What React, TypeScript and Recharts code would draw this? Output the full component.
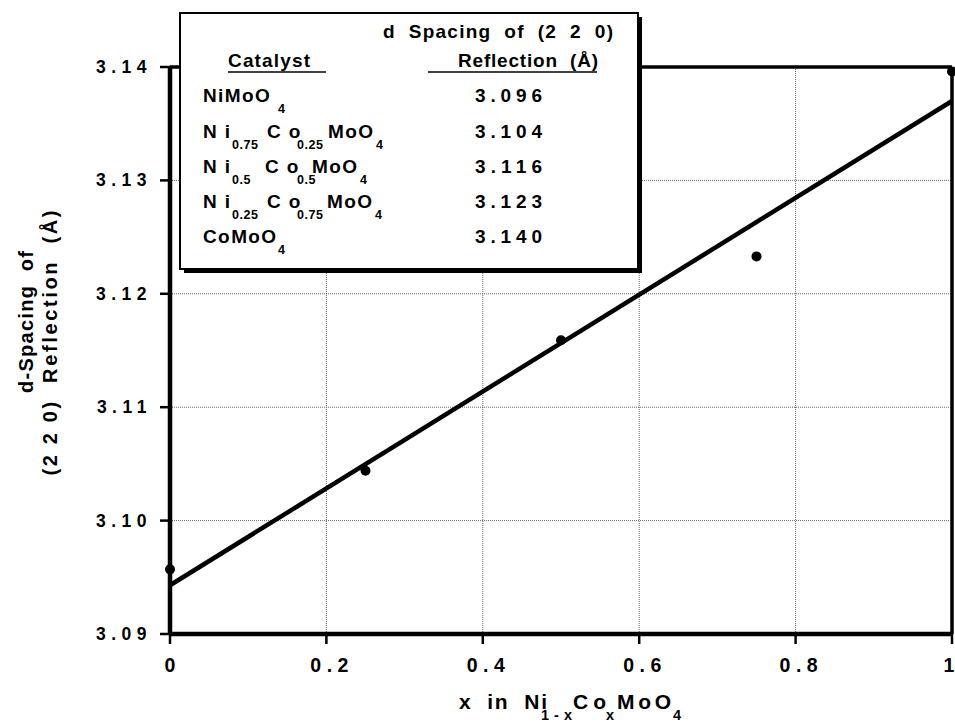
import React from "react";
import {
  ComposedChart,
  XAxis,
  YAxis,
  CartesianGrid,
  Scatter,
  Line,
  ReferenceLine,
} from "recharts";

// ---- data ----
const compositionX = [0, 0.25, 0.5, 0.75, 1];
const dSpacing = [3.0957, 3.1044, 3.1159, 3.1233, 3.1396];
const fitX = [0, 1];
const fitY = [3.0943, 3.137];
const xTicks = [0, 0.2, 0.4, 0.6, 0.8, 1];
const xTickLabels = ["0", "0.2", "0.4", "0.6", "0.8", "1"];
const yTicks = [3.09, 3.1, 3.11, 3.12, 3.13, 3.14];
const yTickLabels = ["3.09", "3.10", "3.11", "3.12", "3.13", "3.14"];

type Seg = { t: string; sub?: boolean };
const catalystNames: Seg[][] = [
  [{ t: "NiMoO" }, { t: "4", sub: true }],
  [{ t: "N i" }, { t: "0.75", sub: true }, { t: "C o" }, { t: "0.25", sub: true }, { t: "MoO" }, { t: "4", sub: true }],
  [{ t: "N i" }, { t: "0.5", sub: true }, { t: "C o" }, { t: "0.5", sub: true }, { t: "MoO" }, { t: "4", sub: true }],
  [{ t: "N i" }, { t: "0.25", sub: true }, { t: "C o" }, { t: "0.75", sub: true }, { t: "MoO" }, { t: "4", sub: true }],
  [{ t: "CoMoO" }, { t: "4", sub: true }],
];
const tableValues = ["3.096", "3.104", "3.116", "3.123", "3.140"];

// text layout (not data): left edge of each formula segment per row
const segLeft = [
  [203, 278],
  [203, 232, 267, 297, 328, 376],
  [203, 232, 265, 297, 312, 360],
  [203, 232, 267, 297, 327, 375],
  [203, 278],
];
const rowBaselines = [102, 138, 173, 208, 243];

const points = compositionX.map((x, i) => ({ x, y: dSpacing[i] }));
const fitLine = fitX.map((x, i) => ({ x, y: fitY[i] }));

const FONT = "'Liberation Sans', Arial, Helvetica, sans-serif";

const XTick = (props: any) => {
  const { x, y, payload } = props;
  const idx = xTicks.indexOf(payload.value);
  const label = idx >= 0 ? xTickLabels[idx] : String(payload.value);
  const multi = label.length > 1;
  const ls = multi ? 5.5 : 0;
  const isLast = idx === xTicks.length - 1;
  const shift = multi ? ls / 2 + 3 : isLast ? -3 : 0;
  return (
    <text
      x={x + shift}
      y={y + 28}
      textAnchor="middle"
      fontFamily={FONT}
      fontWeight="bold"
      fontSize={19.5}
      letterSpacing={ls}
      fill="#000"
    >
      {label}
    </text>
  );
};

const YTick = (props: any) => {
  const { x, y, payload } = props;
  const idx = yTicks.findIndex((v) => Math.abs(v - payload.value) < 1e-9);
  const label = idx >= 0 ? yTickLabels[idx] : String(payload.value);
  return (
    <text
      x={x - 8}
      y={y + 6}
      textAnchor="end"
      fontFamily={FONT}
      fontWeight="bold"
      fontSize={17.5}
      letterSpacing={5.5}
      fill="#000"
    >
      {label}
    </text>
  );
};

const Dot = (props: any) => {
  const { cx, cy } = props;
  if (cx == null || cy == null) return null;
  return <circle cx={cx} cy={cy} r={5} fill="#000" />;
};

export default function App() {
  return (
    <div style={{ position: "absolute", left: 0, top: 0, width: 955, height: 725, background: "#fff" }}>
      <ComposedChart
        width={955}
        height={725}
        margin={{ top: 67, right: 3, bottom: 0, left: 0 }}
        style={{ position: "absolute", left: 0, top: 0 }}
      >
        <CartesianGrid
          stroke="#666"
          strokeWidth={1}
          strokeDasharray="1 1"
          horizontalValues={yTicks}
          verticalValues={xTicks}
        />
        <XAxis
          dataKey="x"
          type="number"
          domain={[0, 1]}
          ticks={xTicks}
          height={91}
          tickSize={10}
          tickMargin={0}
          tick={<XTick />}
          axisLine={{ stroke: "#000", strokeWidth: 4.5 }}
          tickLine={{ stroke: "#000", strokeWidth: 2.5 }}
          interval={0}
        />
        <YAxis
          type="number"
          domain={[3.09, 3.14]}
          ticks={yTicks}
          width={170}
          tickSize={10}
          tickMargin={0}
          tick={<YTick />}
          axisLine={{ stroke: "#000", strokeWidth: 4.5 }}
          tickLine={{ stroke: "#000", strokeWidth: 2.5 }}
          interval={0}
        />
        <ReferenceLine y={3.14} stroke="#000" strokeWidth={3.5} />
        <ReferenceLine x={1} stroke="#000" strokeWidth={3.5} />
        <Line
          data={fitLine}
          dataKey="y"
          stroke="#000"
          strokeWidth={4.5}
          dot={false}
          activeDot={false}
          isAnimationActive={false}
          type="linear"
        />
        <Scatter data={points} dataKey="y" fill="#000" shape={<Dot />} isAnimationActive={false} />
      </ComposedChart>

      <svg
        width={955}
        height={725}
        style={{ position: "absolute", left: 0, top: 0, pointerEvents: "none" }}
      >
        {/* y axis title */}
        <g fontFamily={FONT} fontWeight="bold" fontSize={20} fill="#000">
          <text transform="translate(33,322) rotate(-90)" textAnchor="middle" textLength={142} lengthAdjust="spacing" style={{ whiteSpace: "pre" }}>
            d-Spacing  of
          </text>
          <text transform="translate(57,343) rotate(-90)" textAnchor="middle" textLength={265} lengthAdjust="spacing" style={{ whiteSpace: "pre" }}>
            (2 2 0)  Reflection  (Å)
          </text>
        </g>

        {/* x axis title */}
        <g fontFamily={FONT} fontWeight="bold" fill="#000">
          <text x={459} y={709} fontSize={21} textLength={88} lengthAdjust="spacing" style={{ whiteSpace: "pre" }}>
            x  in  Ni
          </text>
          <text x={541} y={720} fontSize={14.5} textLength={31} lengthAdjust="spacing" style={{ whiteSpace: "pre" }}>
            1 - x
          </text>
          <text x={573} y={709} fontSize={21} textLength={33} lengthAdjust="spacing" style={{ whiteSpace: "pre" }}>
            C o
          </text>
          <text x={606} y={720} fontSize={14.5}>
            x
          </text>
          <text x={617} y={709} fontSize={21} textLength={54} lengthAdjust="spacing">
            MoO
          </text>
          <text x={673} y={720} fontSize={14.5}>
            4
          </text>
        </g>

        {/* table box */}
        <rect x={184} y={17} width={458} height={256} fill="#000" />
        <rect x={180} y={13} width={458} height={256} fill="#fff" stroke="#000" strokeWidth={2} />
        <g fontFamily={FONT} fontWeight="bold" fill="#000">
          <text x={383} y={38} fontSize={19} textLength={230} lengthAdjust="spacing" style={{ whiteSpace: "pre" }}>
            d  Spacing  of  (2  2  0)
          </text>
          <text x={228} y={67} fontSize={19} textLength={82} lengthAdjust="spacing">
            Catalyst
          </text>
          <text x={458} y={67} fontSize={19} textLength={140} lengthAdjust="spacing" style={{ whiteSpace: "pre" }}>
            Reflection  (Å)
          </text>
        </g>
        <line x1={228} x2={326} y1={72} y2={72} stroke="#000" strokeWidth={1.5} />
        <line x1={428} x2={597} y1={72} y2={72} stroke="#000" strokeWidth={1.5} />
        {catalystNames.map((segs, r) => (
          <g key={r} fontFamily={FONT} fontWeight="bold" fill="#000">
            {segs.map((s, j) => (
              <text
                key={j}
                x={segLeft[r][j]}
                y={rowBaselines[r] + (s.sub ? 11 : 0)}
                fontSize={s.sub ? 12.5 : 19}
                letterSpacing={s.sub ? 0.5 : 1.4}
                style={{ whiteSpace: "pre" }}
              >
                {s.t}
              </text>
            ))}
          </g>
        ))}
        {tableValues.map((v, i) => (
          <text
            key={v}
            x={475}
            y={rowBaselines[i]}
            fontFamily={FONT}
            fontWeight="bold"
            fontSize={19}
            textLength={67}
            lengthAdjust="spacing"
            fill="#000"
          >
            {v}
          </text>
        ))}
      </svg>
    </div>
  );
}
